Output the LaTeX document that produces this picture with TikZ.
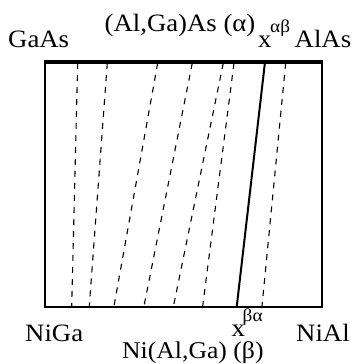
\documentclass[tikz,border=0pt]{standalone}
\usepackage{fontspec}
\setmainfont{Liberation Serif}[FakeStretch=1.07]
\begin{document}
\begin{tikzpicture}[x=1pt,y=-1pt,
  lbl/.style={inner sep=0pt, anchor=base west, font=\fontsize{25}{28}\selectfont},
  suplbl/.style={inner sep=0pt, anchor=base west, font=\fontsize{18}{20}\selectfont},
  dline/.style={line width=1.1pt, dash pattern=on 6pt off 6pt},
  frame/.style={line width=2pt},
  tie/.style={line width=2pt}]
\useasboundingbox (0,0) rectangle (354,364);
% frame
\draw[frame] (45,62) rectangle (322,307);
\draw[line width=4pt] (44,62) -- (323,62);
% dashed tie lines
\draw[dline] (77.7,63) -- (71.7,306);
\draw[dline] (107.3,63) -- (89.3,306);
\draw[dline] (157.7,63) -- (114,306);
\draw[dline] (192.3,63) -- (144,306);
\draw[dline] (223.3,63) -- (173.5,306);
\draw[dline] (234,63) -- (202.7,306);
\draw[dline] (285.7,63) -- (262,306);
% solid boundary line
\draw[tie] (265,62) -- (236.7,307);
% labels
\node[lbl] (gaas) at (8,47) {GaAs};
\node[lbl] (alga) at (104.5,31) {(Al,Ga)As (α)};
\node[lbl] (xab) at (258,47) {x};
\node[suplbl] (xabs) at (270,32) {αβ};
\node[lbl] (alas) at (294.5,47) {AlAs};
\node[lbl] (niga) at (25,341) {NiGa};
\node[lbl] (xba) at (231.5,336) {x};
\node[suplbl] (xbas) at (242.5,321.5) {βα};
\node[lbl] (nial) at (296,341) {NiAl};
\node[lbl,font=\fontsize{24}{27}\selectfont] (niag) at (122,358.5) {Ni(Al,Ga) (β)};
\end{tikzpicture}
\end{document}
